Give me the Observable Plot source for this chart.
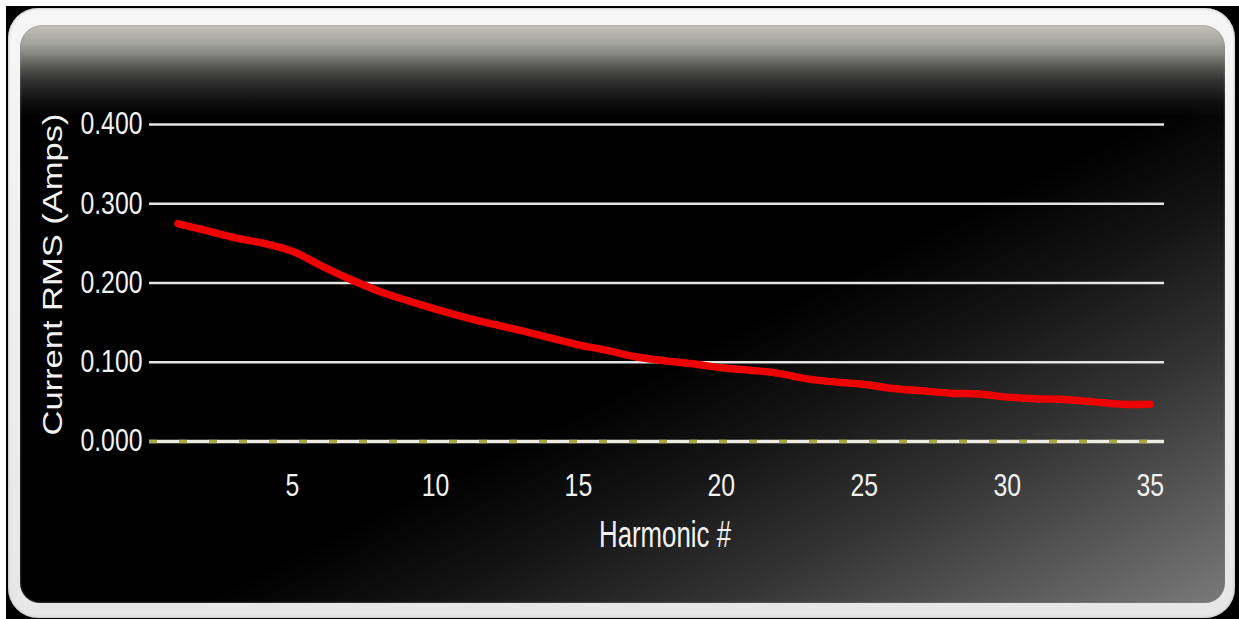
<!DOCTYPE html>
<html>
<head>
<meta charset="utf-8">
<script src="https://cdn.jsdelivr.net/npm/d3@7"></script>
<script src="https://cdn.jsdelivr.net/npm/@observablehq/plot@0.6"></script>
<style>
  html, body { margin: 0; padding: 0; background: #fff; }
  #wrap { position: relative; width: 1239px; height: 619px; overflow: hidden; background: #fff; }
  #outer { position: absolute; left: 6px; top: 6px; width: 1233px; height: 613px; background: #000; }
  #frame { position: absolute; left: 8px; top: 8px; width: 1227px; height: 610px; border-radius: 30px;
           background: linear-gradient(to bottom, #f6f6f6, #e6e6e6); box-shadow: inset 0 0 3px #aaa; }
  #panel { position: absolute; left: 20px; top: 25px; width: 1205px; height: 578px; border-radius: 22px 22px 20px 20px;
           background:
             linear-gradient(to bottom, #c2c2ba 0px, #a4a49e 18px, #82827e 30px, #575755 42px, #333 55px, #121212 75px, rgba(0,0,0,0) 92px),
             linear-gradient(153deg, #000 0%, #000 56%, #141414 66%, #333 78%, #565656 89%, #7a7a7a 100%);
           box-shadow: inset 0 0 2px #888; }
  #chart { position: absolute; left: 0; top: 0; }
</style>
</head>
<body>
<div id="wrap">
  <div id="outer"></div>
  <div id="frame"></div>
  <div id="panel"></div>
  <div id="chart"></div>
</div>
<script>
const harmonics = [1,2,3,4,5,6,7,8,9,10,11,12,13,14,15,16,17,18,19,20,21,22,23,24,25,26,27,28,29,30,31,32,33,34,35];
const currentRms = [0.275,0.266,0.257,0.250,0.240,0.222,0.205,0.190,0.178,0.167,0.157,0.148,0.140,0.131,0.122,0.115,0.107,0.102,0.098,0.093,0.090,0.086,0.079,0.075,0.072,0.067,0.064,0.061,0.060,0.056,0.054,0.053,0.050,0.047,0.047];
const xTicks = [5,10,15,20,25,30,35];
const yTicks = [0,0.1,0.2,0.3,0.4];
const gridTicks = [0.1,0.2,0.3,0.4];
const xLabel = "Harmonic #";
const yLabel = "Current RMS (Amps)";

const data = harmonics.map((h, i) => ({h, v: currentRms[i]}));
const FONT = "'Liberation Sans', Arial, Helvetica, sans-serif";

const chart = Plot.plot({
  width: 1239,
  height: 619,
  marginLeft: 149,
  marginRight: 75,
  marginTop: 124,
  marginBottom: 178,
  style: {background: "transparent", color: "#f2f2f2", fontFamily: FONT},
  x: {domain: [0, 35.5]},
  y: {domain: [0, 0.4]},
  marks: [
    Plot.gridY(gridTicks, {stroke: "#e4e4e4", strokeOpacity: 1, strokeWidth: 2.5}),
    Plot.ruleY([0], {stroke: "#ecece4", strokeWidth: 3.5}),
    Plot.ruleY([0], {stroke: "#a4aa48", strokeWidth: 3.5, strokeDasharray: "8,22"}),
    Plot.axisX(xTicks, {tickSize: 0, tickPadding: 32, label: null, fill: "#f2f2f2", fontSize: 31}),
    Plot.axisY(yTicks, {tickSize: 0, tickPadding: 7, tickFormat: d3.format(".3f"), label: null, fill: "#f2f2f2", fontSize: 31}),
    Plot.line(data, {x: "h", y: "v", stroke: "#ee0000", strokeWidth: 7.5, curve: "catmull-rom", strokeLinecap: "round", strokeLinejoin: "round"}),
    Plot.text([xLabel], {frameAnchor: "bottom", textAnchor: "middle", lineAnchor: "middle", dx: 8, dy: 94, fontSize: 37, fill: "#f2f2f2"}),
    Plot.text([yLabel], {frameAnchor: "left", textAnchor: "middle", lineAnchor: "middle", dx: -96, dy: -8.5, rotate: -90, fontSize: 28, fill: "#f2f2f2"})
  ]
});
document.getElementById("chart").appendChild(chart);

// condense the text horizontally like the reference lettering
d3.select(chart).selectAll("text").each(function() {
  const t = this.textContent;
  if (t === xLabel) {
    d3.select(this).attr("textLength", 132).attr("lengthAdjust", "spacingAndGlyphs");
  } else if (t === yLabel) {
    d3.select(this).attr("textLength", 322).attr("lengthAdjust", "spacingAndGlyphs");
  } else {
    const len = this.getComputedTextLength();
    if (len > 0) d3.select(this).attr("textLength", len * 0.8).attr("lengthAdjust", "spacingAndGlyphs");
  }
});
</script>
</body>
</html>
